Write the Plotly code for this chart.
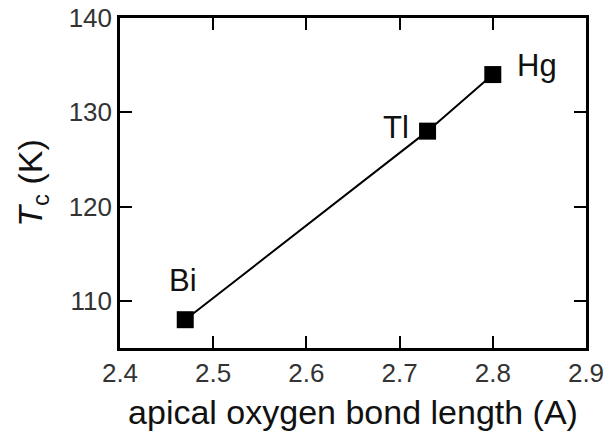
import plotly.graph_objects as go

bond_length = [2.47, 2.73, 2.80]
tc = [108, 128, 134]
labels = ["Bi", "Tl", "Hg"]
label_x = [2.468, 2.696, 2.847]
label_y = [112.2, 128.4, 135.0]

FONT = "Liberation Sans, Arial, sans-serif"

fig = go.Figure()
fig.add_trace(go.Scatter(
    x=bond_length, y=tc, mode="lines+markers",
    line=dict(color="black", width=2),
    marker=dict(symbol="square", size=17, color="black"),
    showlegend=False,
))
for lx, ly, t in zip(label_x, label_y, labels):
    fig.add_annotation(x=lx, y=ly, text=t, showarrow=False,
                       font=dict(size=31, color="#111", family=FONT))

axis_common = dict(
    showgrid=False, zeroline=False, showline=True, linecolor="black", linewidth=2.5,
    mirror="ticks", ticks="inside", ticklen=12, tickwidth=2, tickcolor="black",
    tickfont=dict(size=26, color="#333", family=FONT),
    ticklabeloverflow="allow", automargin=False,
)
fig.update_xaxes(range=[2.4, 2.9], dtick=0.1, tickformat=".1f",
                 title=dict(text="apical oxygen bond length (A)", standoff=14,
                            font=dict(size=34, color="#111", family=FONT)),
                 **axis_common)
fig.update_yaxes(range=[105, 140], tickvals=[110, 120, 130, 140],
                 title=dict(text="<i>T</i><sub>c</sub> (K)", standoff=16,
                            font=dict(size=34, color="#111", family=FONT)),
                 **axis_common)
fig.update_layout(
    width=604, height=444,
    margin=dict(l=120, r=18, t=18, b=96),
    plot_bgcolor="white", paper_bgcolor="white",
)
fig.write_html("out.html")
